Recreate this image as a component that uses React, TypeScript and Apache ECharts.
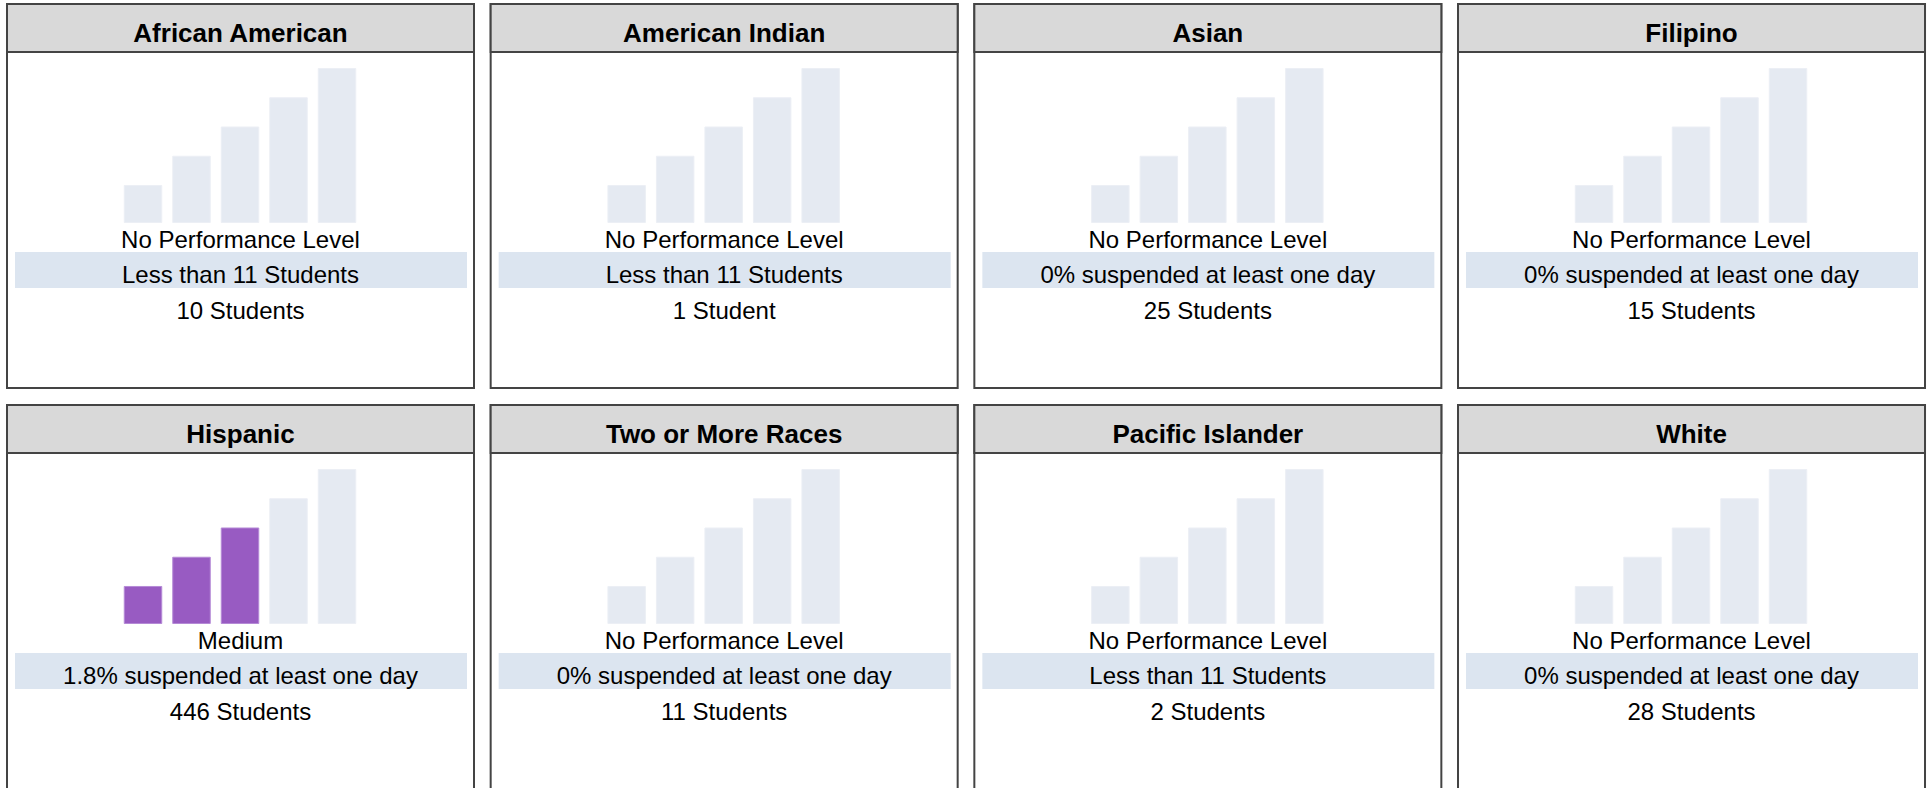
import React, { useEffect, useRef } from "react";
import * as echarts from "echarts";

const groups = [
  "African American",
  "American Indian",
  "Asian",
  "Filipino",
  "Hispanic",
  "Two or More Races",
  "Pacific Islander",
  "White",
];
const performanceLevels = [
  "No Performance Level",
  "No Performance Level",
  "No Performance Level",
  "No Performance Level",
  "Medium",
  "No Performance Level",
  "No Performance Level",
  "No Performance Level",
];
const rateTexts = [
  "Less than 11 Students",
  "Less than 11 Students",
  "0% suspended at least one day",
  "0% suspended at least one day",
  "1.8% suspended at least one day",
  "0% suspended at least one day",
  "Less than 11 Students",
  "0% suspended at least one day",
];
const studentCounts = [10, 1, 25, 15, 446, 11, 2, 28];
const filledBars = [0, 0, 0, 0, 3, 0, 0, 0];
const barCategories = ["Very Low", "Low", "Medium", "High", "Very High"];
const barHeights = [1.3, 2.3, 3.3, 4.3, 5.3];

const FONT = '"Liberation Sans", Arial, sans-serif';
const PANEL_W = 467;
const PANEL_H = 384;
const HEADER_H = 48;
const LEFT0 = 7;
const TOP0 = 4;
const COL_STEP = 483.67;
const ROW_STEP = 401;

export default function App() {
  const ref = useRef<HTMLDivElement>(null);
  useEffect(() => {
    if (!ref.current) return;
    const chart = echarts.init(ref.current, undefined, { renderer: "svg" });
    const grids: any[] = [];
    const xAxes: any[] = [];
    const yAxes: any[] = [];
    const series: any[] = [];
    const graphics: any[] = [];
    groups.forEach((name, i) => {
      const col = i % 4;
      const row = Math.floor(i / 4);
      const px = LEFT0 + col * COL_STEP;
      const py = TOP0 + row * ROW_STEP;
      grids.push({ left: px + 111.75, top: py + 64, width: 242.5, height: 155 });
      xAxes.push({
        type: "category",
        gridIndex: i,
        data: barCategories,
        show: false,
      });
      yAxes.push({ type: "value", gridIndex: i, min: 0, max: 5.3, show: false });
      series.push({
        type: "bar",
        xAxisIndex: i,
        yAxisIndex: i,
        barWidth: 38.5,
        data: barHeights.map((v, k) => ({
          value: v,
          itemStyle: {
            color: k < filledBars[i] ? "#985bc2" : "#e5eaf2",
            borderColor: k < filledBars[i] ? "#b58ad6" : "#eceff5",
            borderWidth: 1,
          },
        })),
        silent: true,
      });
      graphics.push({
        type: "rect",
        z: 0,
        shape: { x: px, y: py, width: PANEL_W, height: PANEL_H },
        style: { fill: "#ffffff", stroke: "#444444", lineWidth: 2 },
      });
      graphics.push({
        type: "rect",
        z: 1,
        shape: { x: px, y: py, width: PANEL_W, height: HEADER_H },
        style: { fill: "#d9d9d9", stroke: "#444444", lineWidth: 2 },
      });
      graphics.push({
        type: "text",
        z: 3,
        x: px + PANEL_W / 2,
        y: py + 29,
        style: {
          text: name,
          font: `bold 26px ${FONT}`,
          fill: "#000000",
          textAlign: "center",
          textVerticalAlign: "middle",
        },
      });
      graphics.push({
        type: "text",
        z: 3,
        x: px + PANEL_W / 2,
        y: py + 235,
        style: {
          text: performanceLevels[i],
          font: `24px ${FONT}`,
          fill: "#000000",
          textAlign: "center",
          textVerticalAlign: "middle",
        },
      });
      graphics.push({
        type: "rect",
        z: 1,
        shape: { x: px + 8, y: py + 248, width: 452, height: 36 },
        style: { fill: "#dce5f0" },
      });
      graphics.push({
        type: "text",
        z: 3,
        x: px + PANEL_W / 2,
        y: py + 270,
        style: {
          text: rateTexts[i],
          font: `24px ${FONT}`,
          fill: "#000000",
          textAlign: "center",
          textVerticalAlign: "middle",
        },
      });
      graphics.push({
        type: "text",
        z: 3,
        x: px + PANEL_W / 2,
        y: py + 306,
        style: {
          text: `${studentCounts[i]} ${studentCounts[i] === 1 ? "Student" : "Students"}`,
          font: `24px ${FONT}`,
          fill: "#000000",
          textAlign: "center",
          textVerticalAlign: "middle",
        },
      });
    });
    chart.setOption({
      animation: false,
      backgroundColor: "#ffffff",
      grid: grids,
      xAxis: xAxes,
      yAxis: yAxes,
      series,
      graphic: { elements: graphics },
    });
    return () => chart.dispose();
  }, []);
  return (
    <div
      ref={ref}
      style={{ position: "absolute", left: 0, top: 0, width: 1931, height: 788 }}
    />
  );
}
